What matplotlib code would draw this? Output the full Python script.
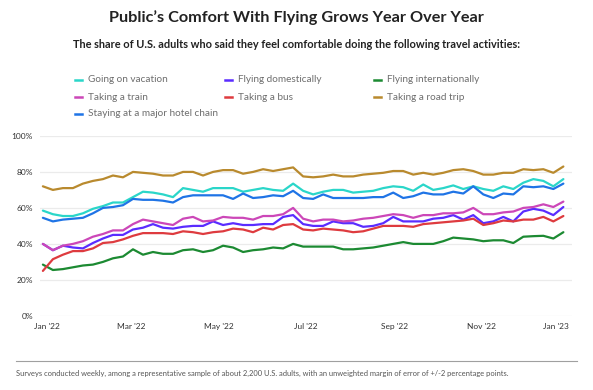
import matplotlib
matplotlib.use("Agg")
import matplotlib.pyplot as plt
from matplotlib.lines import Line2D
import pandas as pd

plt.rcParams["font.family"] = ["Lato", "DejaVu Sans"]

# weekly survey waves, late Dec 2021 through late Dec 2022
dates = pd.date_range("2021-12-29", periods=53, freq="7D")

vacation = [58.5, 56.5, 55.5, 55.5, 57, 59.5, 61, 63, 63, 66, 69, 68.5, 67.5, 66,
            71, 70, 69, 71, 71, 71, 69, 70, 71, 70, 69.5, 73.5, 69.5, 67.5, 69, 70,
            70, 68.5, 69, 69.5, 71, 72, 71.5, 69.5, 73, 70, 71, 72.5, 70.5, 72, 70.5,
            69.5, 72, 70.5, 74, 76, 75, 72, 76]
domestic = [40, 36.5, 39, 38, 37.5, 40.5, 43, 45, 45, 48, 49, 51, 49, 48.5,
            49.5, 50, 50, 52.5, 50.5, 51.5, 50.5, 50.5, 51, 51, 55, 56, 51, 50, 50,
            52.5, 51.5, 51.5, 49.5, 50, 51.5, 55, 52.5, 52.5, 52.5, 54, 54.5, 56,
            53.5, 56, 51.5, 52.5, 55, 52.5, 58, 59.5, 58.5, 56, 60.5]
international = [28.5, 25.5, 26, 27, 28, 28.5, 30, 32, 33, 37, 34, 35.5, 34.5, 34.5,
                 36.5, 37, 35.5, 36.5, 39, 38, 35.5, 36.5, 37, 38, 37.5, 40, 38.5,
                 38.5, 38.5, 38.5, 37, 37, 37.5, 38, 39, 40, 41, 40, 40, 40, 41.5,
                 43.5, 43, 42.5, 41.5, 42, 42, 40.5, 44, 44.3, 44.5, 43, 46.5]
train = [40, 36.5, 39, 40, 41.5, 44, 45.5, 47.5, 47.5, 51, 53.5, 52.5, 51.5, 50.5,
         54, 55, 52.5, 53, 55, 54.5, 54.5, 53.5, 55.5, 55.5, 56.5, 60, 54, 52.5,
         53.5, 53.5, 52.5, 53, 54, 54.5, 55.5, 56.5, 56, 54.5, 56, 56, 57, 57, 57.5,
         60, 56.5, 56.5, 57.5, 58, 60, 60.5, 62, 60.5, 63.5]
bus = [25, 31.5, 34, 36, 36, 37.5, 40.5, 41, 42.5, 44.5, 46, 46, 46, 45.5, 47,
       46.5, 45.5, 46.5, 47, 48.5, 48, 46.5, 49, 48, 50.5, 51, 48, 47.5, 48.5, 48,
       47.5, 46.5, 47, 48.5, 50, 50, 50, 49.5, 51, 51.5, 52, 52.5, 53, 54, 50.5,
       51.5, 53, 52.5, 53.5, 53.5, 55, 52.5, 55.5]
road_trip = [72, 70, 71, 71, 73.5, 75, 76, 78, 77, 80, 79.5, 79, 78, 78, 80, 80,
             78, 80, 81, 81, 79, 80, 81.5, 80.5, 81.5, 82.5, 77.5, 77, 77.5, 78.5,
             77.5, 77.5, 78.5, 79, 79.5, 80.5, 80.5, 78.5, 79.5, 78.5, 79.5, 81,
             81.5, 80.5, 78.5, 78.5, 79.5, 79.5, 81.5, 81, 81.5, 79.5, 83]
hotel = [54.5, 52.5, 53.5, 54, 54.5, 57, 60, 60.5, 61.5, 65, 64.5, 64.5, 64, 63,
         66, 67, 67, 67, 67, 65, 68, 65.5, 66, 67, 66.5, 69.5, 65.5, 65, 67.5, 65.5,
         65.5, 65.5, 65.5, 66, 66, 68.5, 65.5, 66.5, 68.5, 67.5, 67.5, 69, 68, 72,
         67.5, 65.5, 68, 67.5, 72, 71.5, 72, 70.5, 73.5]

series = [
    ("Going on vacation", vacation, "#2ad6c9"),
    ("Flying domestically", domestic, "#5a2cff"),
    ("Flying internationally", international, "#1c8a32"),
    ("Taking a train", train, "#cc47b8"),
    ("Taking a bus", bus, "#de3b3f"),
    ("Taking a road trip", road_trip, "#b98a2e"),
    ("Staying at a major hotel chain", hotel, "#1f74e6"),
]

tick_dates = pd.to_datetime(["2022-01-01", "2022-03-01", "2022-05-01", "2022-07-01",
                             "2022-09-01", "2022-11-01", "2023-01-01"])
tick_labels = ["Jan '22", "Mar '22", "May '22", "Jul '22", "Sep '22", "Nov '22", "Jan '23"]

fig = plt.figure(figsize=(5.93, 3.90), dpi=100)
ax = fig.add_axes([0.0675, 0.19, 0.897, 0.4615])

for name, vals, color in series:
    ax.plot(dates, vals, color=color, lw=1.6, solid_joinstyle="round",
            solid_capstyle="round")

ax.set_ylim(0, 100)
ax.set_xlim(pd.Timestamp("2021-12-27"), pd.Timestamp("2023-01-03"))
ax.set_yticks(range(0, 101, 20))
ax.set_yticklabels([f"{v}%" for v in range(0, 101, 20)])
ax.set_xticks(tick_dates)
ax.set_xticklabels(tick_labels)
ax.get_xticklabels()[-1].set_horizontalalignment("right")
ax.grid(axis="y", color="#ebebeb", lw=0.9)
ax.set_axisbelow(True)
for s in ax.spines.values():
    s.set_visible(False)
ax.tick_params(axis="both", length=0, labelsize=6, labelcolor="#333333")
ax.tick_params(axis="y", pad=5)
ax.tick_params(axis="x", pad=5)

fig.text(0.5, 0.956, "Public\u2019s Comfort With Flying Grows Year Over Year",
         ha="center", va="center", fontsize=11.7, fontweight="bold", color="#222222")
fig.text(0.5, 0.885,
         "The share of U.S. adults who said they feel comfortable doing the following travel activities:",
         ha="center", va="center", fontsize=7.9, fontweight="bold", color="#222222")

# legend laid out in three fixed columns like the original
col_x = [75, 225, 374]
row_y = [80, 97, 114]
for i, (name, _, color) in enumerate(series):
    x0 = col_x[i % 3]
    fy = 1 - row_y[i // 3] / 390
    fig.add_artist(Line2D([x0 / 593, (x0 + 7) / 593], [fy, fy], color=color, lw=1.8,
                          transform=fig.transFigure))
    fig.text((x0 + 13) / 593, fy, name, ha="left", va="center", fontsize=7.2,
             color="#6e6e6e")

fig.add_artist(Line2D([16 / 593, 577 / 593], [1 - 361 / 390, 1 - 361 / 390],
                      color="#a0a0a0", lw=0.8, transform=fig.transFigure))
fig.text(16 / 593, 1 - 373 / 390,
         "Surveys conducted weekly, among a representative sample of about 2,200 U.S. adults, "
         "with an unweighted margin of error of +/-2 percentage points.",
         ha="left", va="center", fontsize=5.4, color="#555555")

fig.savefig("out.png", dpi=100)
